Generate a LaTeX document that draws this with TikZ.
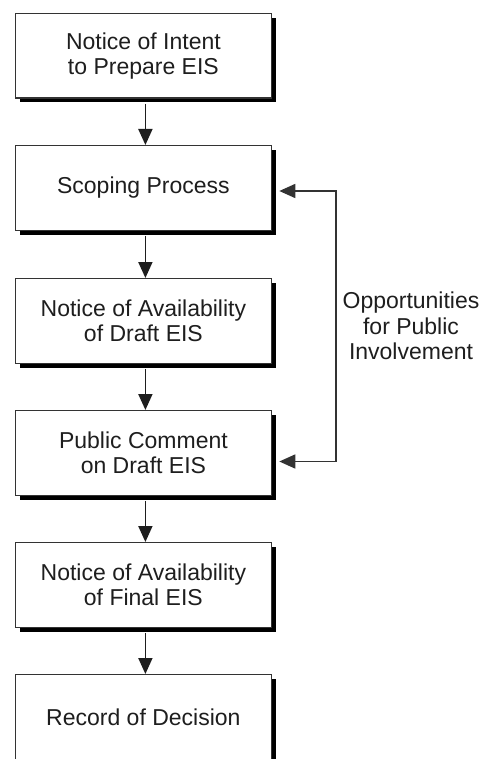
\documentclass[tikz,border=0pt]{standalone}
\usepackage{fontspec}
\setmainfont{Liberation Sans}
\usetikzlibrary{arrows.meta,calc}
\definecolor{ink}{HTML}{1E1E1E}
\definecolor{frame}{HTML}{333333}
\tikzset{
  procbox/.style={draw=frame, line width=1.3pt, fill=white, minimum width=256.5pt, minimum height=84.5pt,
    inner sep=0pt, align=center, text=ink, font=\fontsize{23}{25.5}\selectfont},
  flowarrow/.style={draw=ink, line width=1.8pt, -{Triangle[length=16pt,width=14pt]}},
  fbline/.style={draw=frame, line width=1.6pt},
  fbarrow/.style={fbline, -{Triangle[length=16pt,width=14pt]}},
  note/.style={align=center, text=ink, font=\fontsize{23}{25.5}\selectfont}
}
\newcommand{\shadowbox}[3]{%
  \fill[black] ($(#2)+(5,5)$) rectangle ++(256.5,84.5);
  \node[procbox, anchor=north west] (#1) at (#2) {#3};
}
\begin{document}
\begin{tikzpicture}[x=1pt,y=-1pt]
\useasboundingbox (0,0) rectangle (483,759);
\clip (0,0) rectangle (483,759);
\shadowbox{b1}{14.5,13}{Notice of Intent\\to Prepare EIS}
\shadowbox{b2}{14.5,145}{Scoping Process}
\shadowbox{b3}{14.5,278}{Notice of Availability\\of Draft EIS}
\shadowbox{b4}{14.5,410}{Public Comment\\on Draft EIS}
\shadowbox{b5}{14.5,542}{Notice of Availability\\of Final EIS}
\shadowbox{b6}{14.5,674}{Record of Decision}
\draw[flowarrow] ([xshift=2pt,yshift=-5pt]b1.south) -- ([xshift=2pt]b2.north);
\draw[flowarrow] ([xshift=2pt,yshift=-5pt]b2.south) -- ([xshift=2pt]b3.north);
\draw[flowarrow] ([xshift=2pt,yshift=-5pt]b3.south) -- ([xshift=2pt]b4.north);
\draw[flowarrow] ([xshift=2pt,yshift=-5pt]b4.south) -- ([xshift=2pt]b5.north);
\draw[flowarrow] ([xshift=2pt,yshift=-5pt]b5.south) -- ([xshift=2pt]b6.north);
\coordinate (c1) at (336,191);
\coordinate (c2) at (336,461.5);
\draw[fbline] ([yshift=0.8pt]c1) -- ([yshift=-0.8pt]c2);
\draw[fbarrow] (c1) -- ([xshift=7pt]b2.east |- c1);
\draw[fbarrow] (c2) -- ([xshift=7pt]b4.east |- c2);
\node[note] (opp) at (411,326) {Opportunities\\for Public\\Involvement};
\end{tikzpicture}
\end{document}
